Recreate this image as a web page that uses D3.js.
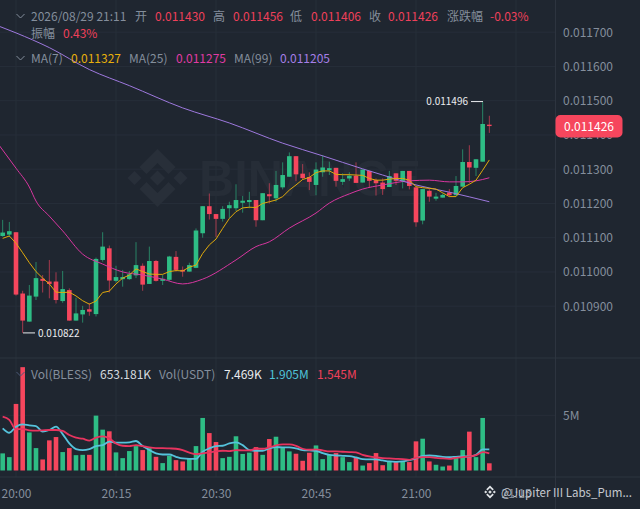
<!DOCTYPE html>
<html><head><meta charset="utf-8">
<style>html,body{margin:0;padding:0;background:#1f2630;overflow:hidden}svg{display:block}
text{font-family:"Noto Sans CJK SC","Noto Sans",sans-serif}</style>
<script src="https://cdn.jsdelivr.net/npm/d3@7/dist/d3.min.js"></script>
</head><body><svg id="c" width="640" height="509"></svg>
<script>
// Prices are in millionths (11430 = 0.011430); volumes in millions. First candle has index -2.
const firstIndex = -2;
const opens = [11105,11109,11116,10937,10855,10928,10980,10972,10972,10915,10947,10858,10876,10891,10877,11035,11069,10974,10979,10979,10990,11018,10965,11032,10974,10977,11044,11006,11001,11012,
 11113,11192,11169,11155,11186,11186,11202,11204,11210,11151,11227,11215,11247,11278,11338,11287,11277,11254,11291,11297,11304,11263,11273,11281,
 11261,11295,11268,11261,11248,11288,11266,11295,11247,11150,11237,11214,11217,11232,11224,11249,11321,11304,11322,11430];
const closes = [11115,11119,10934,10858,10931,10982,10974,10965,10918,10950,10858,10879,10889,10884,11038,11074,10975,10985,10985,10993,11020,10963,11032,10974,10980,11045,11006,11001,11020,11121,
 11192,11169,11155,11184,11195,11210,11208,11210,11151,11230,11221,11254,11283,11338,11285,11274,11263,11299,11305,11303,11266,11271,11281,11260,
 11299,11266,11259,11242,11280,11266,11295,11251,11145,11242,11220,11220,11225,11224,11251,11321,11305,11329,11432,11426];
const highs = [11152,11146,11116,10945,10962,11029,10991,11035,10999,11003,10952,10925,10901,10909,11042,11116,11077,11018,11006,11003,11087,11025,11074,11035,10991,11047,11061,11016,11027,11127,
 11192,11229,11169,11192,11205,11256,11222,11234,11210,11230,11259,11295,11320,11349,11338,11315,11291,11320,11341,11322,11304,11288,11291,11320,
 11299,11295,11273,11273,11295,11288,11295,11295,11247,11242,11242,11231,11229,11242,11280,11358,11370,11329,11496,11456];
const lows = [11103,11103,10931,10822,10855,10918,10940,10923,10908,10910,10858,10858,10852,10872,10870,11030,10940,10969,10957,10977,10982,10945,10965,10972,10962,10974,11001,10986,11001,11011,
 11100,11153,11102,11147,11157,11178,11173,11186,11132,11151,11200,11205,11241,11278,11265,11270,11239,11224,11278,11283,11249,11254,11266,11260,
 11261,11246,11223,11225,11248,11254,11244,11241,11132,11139,11205,11208,11217,11220,11224,11249,11259,11280,11322,11406];
const volumes = [1.55,1.21,6.03,9.36,3.45,2.03,1.0,2.73,3.03,1.67,2.03,1.39,1.42,1.42,4.97,3.7,3.55,1.64,1.12,1.76,2.21,1.85,2.03,1.24,0.67,1.33,0.94,0.82,1.06,2.21,4.76,3.39,2.58,1.12,1.24,3.1,1.5,1.62,
 2.12,1.42,2.85,3.06,2.09,1.73,1.52,0.88,1.61,2.27,1.03,1.42,1.58,1.21,0.76,1.21,0.45,0.67,1.58,0.48,0.82,0.76,0.82,0.76,2.64,2.88,0.82,0.52,0.36,0.45,1.27,1.85,3.52,1.21,4.76,0.653];
const ma7 = [11098,11105,11084,11056,11027,11001,10982,10965,10941,10940,10941,10930,10916,10906,10915,10940,10944,10965,10982,10991,11009,11001,10994,10993,10993,11001,11004,11003,11014,11020,
 11054,11079,11096,11127,11156,11176,11187,11189,11188,11200,11205,11210,11220,11239,11254,11270,11276,11290,11295,11295,11285,11284,11284,11283,
 11282,11273,11268,11268,11271,11273,11273,11268,11249,11246,11244,11242,11231,11220,11220,11246,11256,11268,11297,11327];
const ma25Index = [-3,-2,0,2,3,5,7,10,13,16,19,22,25,28,33,36,38,41,45,47,50,52,55,59,62,65,67,69,71];
const ma25 = [11382,11356,11303,11248,11207,11163,11120,11052,11023,11000,10991,10979,10965,10979,11035,11074,11088,11128,11172,11201,11228,11242,11254,11266,11268,11263,11263,11266,11275];
const ma99Index = [-3,0,5,11,17,25,32,40,46,52,55,60,65,71];
const ma99 = [11721,11698,11655,11591,11544,11479,11435,11376,11339,11301,11283,11254,11233,11205];
const volMaA = [3.82,3.42,3.97,4.18,4.09,4.03,3.52,3.67,3.97,3.3,2.45,1.94,1.85,1.94,2.21,2.3,2.61,2.52,2.52,2.55,2.67,2.21,1.85,1.55,1.45,1.45,1.24,1.09,1.06,1.06,1.7,2.0,2.21,2.24,2.45,2.55,2.3,1.85,
 1.79,1.79,2.0,2.12,2.09,2.09,2.0,1.85,1.82,1.79,1.58,1.42,1.36,1.33,1.3,1.18,1.03,1.0,1.0,0.91,0.82,0.79,0.82,0.94,1.09,1.33,1.36,1.33,1.24,1.21,1.24,1.27,1.27,1.42,1.91,1.905];
const volMaB = [4.88,4.58,3.73,3.76,3.64,3.61,3.64,3.67,3.67,3.58,3.21,2.97,2.88,2.7,2.97,3.09,2.91,2.45,2.24,2.21,2.3,2.21,2.09,2.03,2.03,2.0,1.97,1.85,1.61,1.48,1.55,1.64,1.73,1.79,1.76,1.85,1.82,1.82,
 1.97,1.97,2.09,2.27,2.36,2.36,2.24,1.97,1.88,1.91,1.82,1.73,1.73,1.7,1.67,1.64,1.42,1.27,1.18,1.12,1.09,1.06,1.03,0.97,1.15,1.21,1.21,1.15,1.09,1.06,1.15,1.21,1.27,1.39,1.67,1.545];
const priceTicks = [11700,11600,11500,11400,11300,11200,11100,11000,10900];
const timeTicks = [0,15,30,45,60,75];
const timeLabels = ["20:00","20:15","20:30","20:45","21:00","21:15"];
const volTicks = [5];
const legendRow1 = [["2026/08/29 21:11",31,"#848e9c"],["开",135,"#848e9c"],["0.011430",155,"#ef405a"],["高",213,"#848e9c"],["0.011456",233,"#ef405a"],["低",290,"#848e9c"],["0.011406",311,"#ef405a"],["收",369,"#848e9c"],["0.011426",388,"#ef405a"],["涨跌幅",447,"#848e9c"],["-0.03%",490,"#ef405a"]];
const legendRow2 = [["振幅",31,"#848e9c"],["0.43%",63,"#ef405a"]];
const legendRow3 = [["MA(7)",31,"#848e9c"],["0.011327",71,"#e8b00c"],["MA(25)",129,"#848e9c"],["0.011275",176,"#e03ba4"],["MA(99)",234,"#848e9c"],["0.011205",280,"#a67fe8"]];
const legendRow4 = [["Vol(BLESS)",31,"#848e9c"],["653.181K",100,"#d5d9df"],["Vol(USDT)",159,"#848e9c"],["7.469K",224,"#eaecef"],["1.905M",269,"#4fc3d9"],["1.545M",317,"#ef405a"]];

const RED="#f6465d", GREEN="#2ebd85", GRID="#272e39", SEP="#2d343f", AXIS="#848e9c";
const W=640,H=509,AX=555.5,PANEL=358,BOT=477;
const svg=d3.select("#c");
const x=d3.scaleLinear().domain([0,75]).range([16,516]);
const y=d3.scaleLinear().domain([11700,10900]).range([32.2,306.2]);
const yv=d3.scaleLinear().domain([0,5]).range([470.5,415.3]);
const bw=4.6;

svg.append("rect").attr("width",W).attr("height",H).attr("fill","#1f2630");

// grid
const g=svg.append("g").attr("stroke",GRID).attr("stroke-width",1);
g.selectAll(".v").data(timeTicks).join("line").attr("x1",d=>x(d)).attr("x2",d=>x(d)).attr("y1",0).attr("y2",BOT);
g.selectAll(".h").data(priceTicks).join("line").attr("x1",0).attr("x2",AX).attr("y1",d=>y(d)).attr("y2",d=>y(d));
g.selectAll(".hv").data(volTicks).join("line").attr("x1",0).attr("x2",AX).attr("y1",d=>yv(d)).attr("y2",d=>yv(d));

// watermark
const wm=svg.append("g").attr("transform","translate(157.5,178)").attr("fill","#282f39");
[[0,0,7.5],[-23,0,7],[23,0,7]].forEach(([cx,cy,r])=>wm.append("path").attr("d",`M${cx-r},${cy}L${cx},${cy-r}L${cx+r},${cy}L${cx},${cy+r}Z`));
wm.append("path").attr("d","M0,-29L18,-11L11,-4L0,-15L-11,-4L-18,-11Z");
wm.append("path").attr("d","M0,29L18,11L11,4L0,15L-11,4L-18,11Z");
svg.append("text").attr("x",199).attr("y",196).attr("fill","#262d37").attr("font-size",50).attr("font-weight",700)
  .attr("textLength",222).attr("lengthAdjust","spacingAndGlyphs").style("font-family","'Liberation Sans'").text("BINANCE");

// separators
const seps=svg.append("g").attr("stroke",SEP);
[PANEL,BOT].forEach(v=>seps.append("line").attr("x1",0).attr("x2",W).attr("y1",v).attr("y2",v));
seps.append("line").attr("x1",AX).attr("x2",AX).attr("y1",0).attr("y2",H);

// data
const candles=opens.map((o,k)=>({i:firstIndex+k,o,c:closes[k],h:highs[k],l:lows[k],v:volumes[k]}));
const up=d=>d.c>=d.o;
const defs=svg.append("defs");
defs.append("clipPath").attr("id","cp").append("rect").attr("width",AX).attr("height",PANEL);
defs.append("clipPath").attr("id","cv").append("rect").attr("y",PANEL).attr("width",AX).attr("height",BOT-PANEL);
const main=svg.append("g").attr("clip-path","url(#cp)");
const vol=svg.append("g").attr("clip-path","url(#cv)");

// candles
main.selectAll(".w").data(candles).join("line")
 .attr("x1",d=>x(d.i)).attr("x2",d=>x(d.i)).attr("y1",d=>y(d.h)).attr("y2",d=>y(d.l))
 .attr("stroke",d=>up(d)?GREEN:RED).attr("stroke-width",1).attr("stroke-opacity",.62);
main.selectAll(".b").data(candles).join("rect")
 .attr("x",d=>x(d.i)-bw/2).attr("width",bw)
 .attr("y",d=>y(Math.max(d.o,d.c))).attr("height",d=>Math.max(1.2,Math.abs(y(d.o)-y(d.c))))
 .attr("fill",d=>up(d)?GREEN:RED);

// moving averages
const fullIdx=candles.map(d=>d.i);
[[ma25Index,ma25,"#d6369f",1,d3.curveMonotoneX],[ma99Index,ma99,"#9d78dd",1,d3.curveMonotoneX],[fullIdx,ma7,"#e0aa0c",1,d3.curveLinear]].forEach(([xs,ys,col,w,curve])=>{
  main.append("path").attr("fill","none").attr("stroke",col).attr("stroke-width",w)
   .attr("d",d3.line().curve(curve).x((_,k)=>x(xs[k])).y(d=>y(d))(ys));
});

// volume
vol.selectAll("rect").data(candles).join("rect")
 .attr("x",d=>x(d.i)-bw/2).attr("width",bw)
 .attr("y",d=>yv(d.v)).attr("height",d=>yv(0)-yv(d.v))
 .attr("fill",d=>up(d)?GREEN:RED);
[[volMaA,"#55c3dc"],[volMaB,"#e8345f"]].forEach(([ys,col])=>{
  vol.append("path").attr("fill","none").attr("stroke",col).attr("stroke-width",1.8)
   .attr("d",d3.line().curve(d3.curveMonotoneX).x((_,k)=>x(fullIdx[k])).y(d=>yv(d))(ys));
});

// axes
const fix=s=>{s.select(".domain").remove();s.selectAll(".tick line").remove();
  s.selectAll("text").attr("fill",AXIS).attr("font-size",12).style("font-family","'Noto Sans CJK SC','Noto Sans',sans-serif");};
svg.append("g").attr("transform","translate(563,0)").call(d3.axisRight(y).tickValues(priceTicks).tickSize(0).tickPadding(0).tickFormat(d=>(d/1e6).toFixed(6))).call(fix);
svg.append("g").attr("transform","translate(563,0)").call(d3.axisRight(yv).tickValues(volTicks).tickSize(0).tickPadding(0).tickFormat(d=>d+"M")).call(fix);
svg.append("g").attr("transform","translate(0,489)").call(d3.axisBottom(x).tickValues(timeTicks).tickSize(0).tickPadding(0).tickFormat((d,k)=>timeLabels[k])).call(fix);

// extreme labels
const hiIdx=closes.length-2, loIdx=3;
svg.append("line").attr("x1",471).attr("x2",483).attr("y1",y(highs[hiIdx])-0.5).attr("y2",y(highs[hiIdx])-0.5).attr("stroke","#eaecef");
svg.append("text").attr("x",468).attr("y",y(highs[hiIdx])+3).attr("text-anchor","end").attr("font-size",10).attr("fill","#eaecef").text((highs[hiIdx]/1e6).toFixed(6));
svg.append("line").attr("x1",23).attr("x2",35).attr("y1",y(lows[loIdx])).attr("y2",y(lows[loIdx])).attr("stroke","#eaecef");
svg.append("text").attr("x",38).attr("y",y(lows[loIdx])+4).attr("font-size",10).attr("fill","#eaecef").text((lows[loIdx]/1e6).toFixed(6));

// last price tag
const last=closes[closes.length-1];
svg.append("rect").attr("x",555.5).attr("y",y(last)-11).attr("width",67).attr("height",22.5).attr("rx",5).attr("fill",RED);
svg.append("text").attr("x",589).attr("y",y(last)+5).attr("text-anchor","middle").attr("font-size",12).attr("fill","#fff").text((last/1e6).toFixed(6));

// legends
const row=(items,yy)=>svg.append("g").selectAll("text").data(items).join("text")
 .attr("x",d=>d[1]).attr("y",yy).attr("font-size",12).attr("fill",d=>d[2]).text(d=>d[0]);
row(legendRow1,21);row(legendRow2,37.5);row(legendRow3,62.5);row(legendRow4,379);
[[16.5,14],[16.5,56],[16.5,372]].forEach(([a,b],k)=>svg.append("path").attr("d",`M${a},${b}l4,4l4,-4`).attr("fill","none").attr("stroke",k==2?"#4c5a78":"#848e9c").attr("stroke-width",1));

// footer
const lg=svg.append("g").attr("transform","translate(490,492)").attr("fill","#dfe2e6");
[[0,0,1.8],[-4.3,0,1.5],[4.3,0,1.5]].forEach(([cx,cy,r])=>lg.append("path").attr("d",`M${cx-r},${cy}L${cx},${cy-r}L${cx+r},${cy}L${cx},${cy+r}Z`));
lg.append("path").attr("d","M0,-6.5L3.8,-2.7L2.6,-1.5L0,-4.1L-2.6,-1.5L-3.8,-2.7Z");
lg.append("path").attr("d","M0,6.5L3.8,2.7L2.6,1.5L0,4.1L-2.6,1.5L-3.8,2.7Z");
svg.append("text").attr("x",501).attr("y",496.5).attr("font-size",12).attr("fill","#c4c8ce").attr("textLength",131).attr("lengthAdjust","spacingAndGlyphs").text("@Jupiter III Labs_Pum...");
</script></body></html>
